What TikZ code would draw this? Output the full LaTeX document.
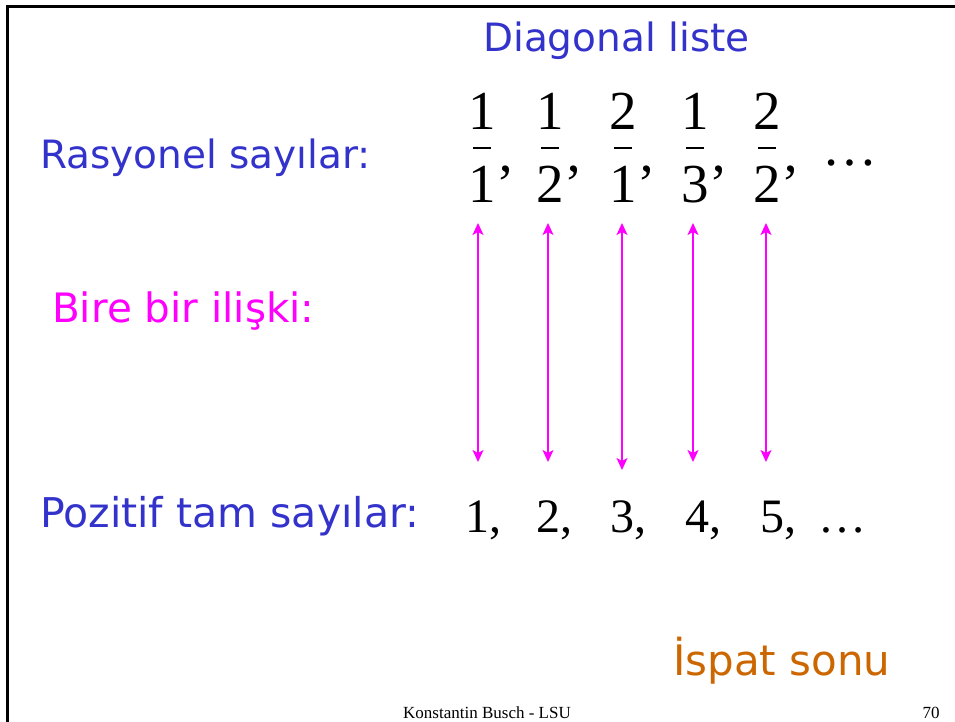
\documentclass[tikz,border=0pt]{standalone}
\usepackage{fontspec}
\setmainfont{Liberation Serif}
\newfontfamily\comicfont{DejaVu Sans}
\usetikzlibrary{arrows.meta}
\definecolor{slideblue}{RGB}{51,51,204}
\definecolor{slidemag}{RGB}{255,0,255}
\definecolor{slideorange}{RGB}{204,102,0}
\newcommand{\cfs}[1]{\comicfont\fontsize{#1}{#1}\selectfont}
\tikzset{
  x=1pt, y=-1pt,
  label/.style={inner sep=0pt, anchor=base west, font=\cfs{38}},
  bluelabel/.style={label, text=slideblue},
  fracdigit/.style={inner sep=0pt, anchor=base, font=\fontsize{55}{60}\selectfont},
  intdigit/.style={inner sep=0pt, anchor=base, font=\fontsize{48}{52}\selectfont},
  punct/.style={inner sep=0pt, anchor=base west},
  fracbar/.style={line width=1.3pt},
  biarrow/.style={draw=slidemag, line width=1.4pt, {Stealth[length=12pt,width=11pt,inset=3pt]}-{Stealth[length=12pt,width=11pt,inset=3pt]}},
  footer/.style={inner sep=0pt, anchor=base, font=\fontsize{17}{20}\selectfont}
}
\begin{document}
\begin{tikzpicture}
\useasboundingbox (0,0) rectangle (955,722);
% slide frame
\draw[line width=3pt] (7,722) -- (7,7) -- (955,7);

% headings
\node[bluelabel, font=\cfs{39}] (title) at (483,52) {Diagonal liste};
\node[bluelabel, font=\cfs{39}] (rat) at (40,169) {Rasyonel sayılar:};
\node[label, text=slidemag, font=\cfs{40.5}] (bij) at (52,322) {Bire bir ilişki:};
\node[bluelabel, font=\cfs{41}] (pos) at (40,527) {Pozitif tam sayılar:};
\node[label, text=slideorange, font=\cfs{42}] (end) at (673,675) {İspat sonu};

% fractions
\foreach \i/\x/\n/\d in {1/482/1/1, 2/550/1/2, 3/623/2/1, 4/695/1/3, 5/767/2/2} {
  \node[fracdigit] (n\i) at (\x,130) {\n};
  \node[fracdigit] (d\i) at (\x,202) {\d};
  \node[punct, font=\fontsize{55}{60}\selectfont] (c\i) at (d\i.base east) {’};
  \draw[fracbar] ([xshift=-9pt]\x pt,-148pt) -- ([xshift=9pt]\x pt,-148pt);
}
\node[punct, font=\fontsize{55}{60}\selectfont] (fdots) at (822,166) {…};

% integers
\foreach \i/\x/\n in {1/477/1, 2/548/2, 3/622/3, 4/697/4, 5/772/5} {
  \node[intdigit] (k\i) at (\x,532) {\n};
  \node[punct, font=\fontsize{48}{52}\selectfont] (kc\i) at (k\i.base east) {,};
}
\node[punct, font=\fontsize{48}{52}\selectfont] (idots) at (818,532) {…};

% correspondence arrows
\foreach \i/\x/\b in {1/478/462, 2/548/462, 3/622/470, 4/693/462, 5/766/462} {
  \coordinate (t\i) at (\x,223);
  \coordinate (b\i) at (\x,\b);
  \draw[biarrow] (b\i) -- (t\i);
}

% footer
\node[footer] (author) at (487,718) {Konstantin Busch - LSU};
\node[footer] (page) at (931,718) {70};
\end{tikzpicture}
\end{document}
